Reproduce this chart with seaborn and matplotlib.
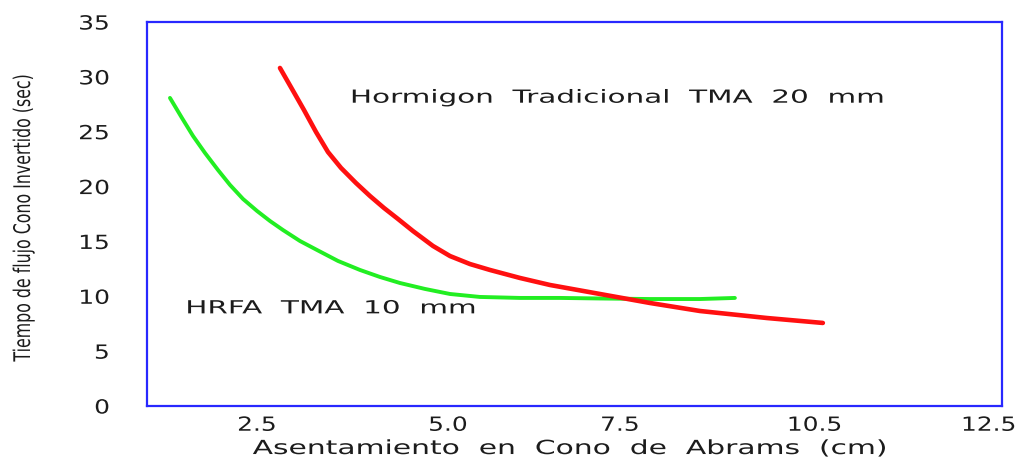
import matplotlib
matplotlib.use("Agg")
import matplotlib.pyplot as plt
from matplotlib.patheffects import AbstractPathEffect
from matplotlib.transforms import Affine2D
import seaborn as sns
import pandas as pd

# Asentamiento (cm) vs tiempo de flujo (s) for each mix
hrfa_x = [1.311, 1.475, 1.626, 1.790, 1.967, 2.131, 2.309, 2.500, 2.678, 2.855, 3.087, 3.320,
          3.607, 3.907, 4.180, 4.454, 4.795, 5.137, 5.546, 6.093, 6.639, 7.186, 7.869, 8.552, 9.030]
hrfa_y = [28.08, 26.25, 24.61, 23.06, 21.51, 20.15, 18.87, 17.78, 16.86, 16.04, 15.04, 14.22,
          13.22, 12.40, 11.76, 11.21, 10.67, 10.21, 9.94, 9.85, 9.85, 9.80, 9.75, 9.75, 9.85]

trad_x = [2.814, 2.978, 3.142, 3.306, 3.470, 3.648, 3.852, 4.044, 4.235, 4.426, 4.631, 4.904,
          5.137, 5.410, 5.683, 6.093, 6.503, 7.186, 7.869, 8.552, 9.467, 10.232]
trad_y = [30.81, 28.90, 26.98, 24.98, 23.15, 21.70, 20.33, 19.14, 18.05, 17.05, 15.95, 14.59,
          13.67, 12.94, 12.40, 11.67, 11.03, 10.21, 9.39, 8.66, 8.02, 7.57]

x_tick_pos = [2.5, 5.11, 7.46, 10.12, 12.5]
x_tick_labels = ["2.5", "5.0", "7.5", "10.5", "12.5"]
y_ticks = [0, 5, 10, 15, 20, 25, 30, 35]

label_hrfa = "HRFA  TMA  10  mm"
label_trad = "Hormigon  Tradicional  TMA  20  mm"


class Stretch(AbstractPathEffect):
    """Scale glyph outlines along the text direction (wide / narrow lettering)."""

    def __init__(self, sx, anchor="left"):
        super().__init__()
        self.sx = sx
        self.anchor = anchor

    def draw_path(self, renderer, gc, tpath, affine, rgbFace=None):
        ext = tpath.get_extents()
        if self.anchor == "center":
            px = 0.5 * (ext.x0 + ext.x1)
        elif self.anchor == "right":
            px = ext.x1
        else:
            px = 0.0
        local = Affine2D().translate(-px, 0).scale(self.sx, 1.0).translate(px, 0)
        renderer.draw_path(gc, tpath, local + affine, rgbFace)


sns.set_style("white")
plt.rcParams["font.family"] = ["DejaVu Sans"]

ink = "#1c1c1c"

fig = plt.figure(figsize=(10.24, 4.63), dpi=100)
ax = fig.add_axes([147 / 1024, 1 - 406 / 463, 855 / 1024, 384 / 463])

hrfa = pd.DataFrame({"x": hrfa_x, "y": hrfa_y})
trad = pd.DataFrame({"x": trad_x, "y": trad_y})

sns.lineplot(data=hrfa, x="x", y="y", ax=ax, color="#22ee22", linewidth=2.8,
             sort=False, estimator=None)
sns.lineplot(data=trad, x="x", y="y", ax=ax, color="#ff1010", linewidth=3.3,
             sort=False, estimator=None)

ax.set_xlim(0.997, 12.68)
ax.set_ylim(0, 35)
ax.set_xticks(x_tick_pos)
ax.set_xticklabels(x_tick_labels)
ax.set_yticks(y_ticks)
ax.set_yticklabels([str(v) for v in y_ticks], ha="right")
ax.tick_params(axis="x", length=0, pad=7, labelsize=14, colors=ink)
ax.tick_params(axis="y", length=0, pad=27, labelsize=14, colors=ink)
for t in ax.get_xticklabels():
    t.set_path_effects([Stretch(1.28, "center")])
for t in ax.get_yticklabels():
    t.set_path_effects([Stretch(1.28, "right")])

for sp in ax.spines.values():
    sp.set_visible(True)
    sp.set_color("#2828ff")
    sp.set_linewidth(1.6)

ax.text(3.77, 28.1, label_trad, fontsize=13, color=ink, va="center", ha="left",
        path_effects=[Stretch(1.63)])
ax.text(1.52, 8.9, label_hrfa, fontsize=13, color=ink, va="center", ha="left",
        path_effects=[Stretch(1.63)])

xl = ax.set_xlabel("Asentamiento  en  Cono  de  Abrams  (cm)", fontsize=14, color=ink)
xl.set_path_effects([Stretch(1.53, "center")])
ax.xaxis.set_label_coords(0.495, -0.086)
yl = ax.set_ylabel("Tiempo de flujo Cono Invertido (sec)", fontsize=16.5, color=ink)
yl.set_path_effects([Stretch(0.69, "center")])
ax.yaxis.set_label_coords(-0.131, 0.49)

fig.savefig("out.png", dpi=100)
